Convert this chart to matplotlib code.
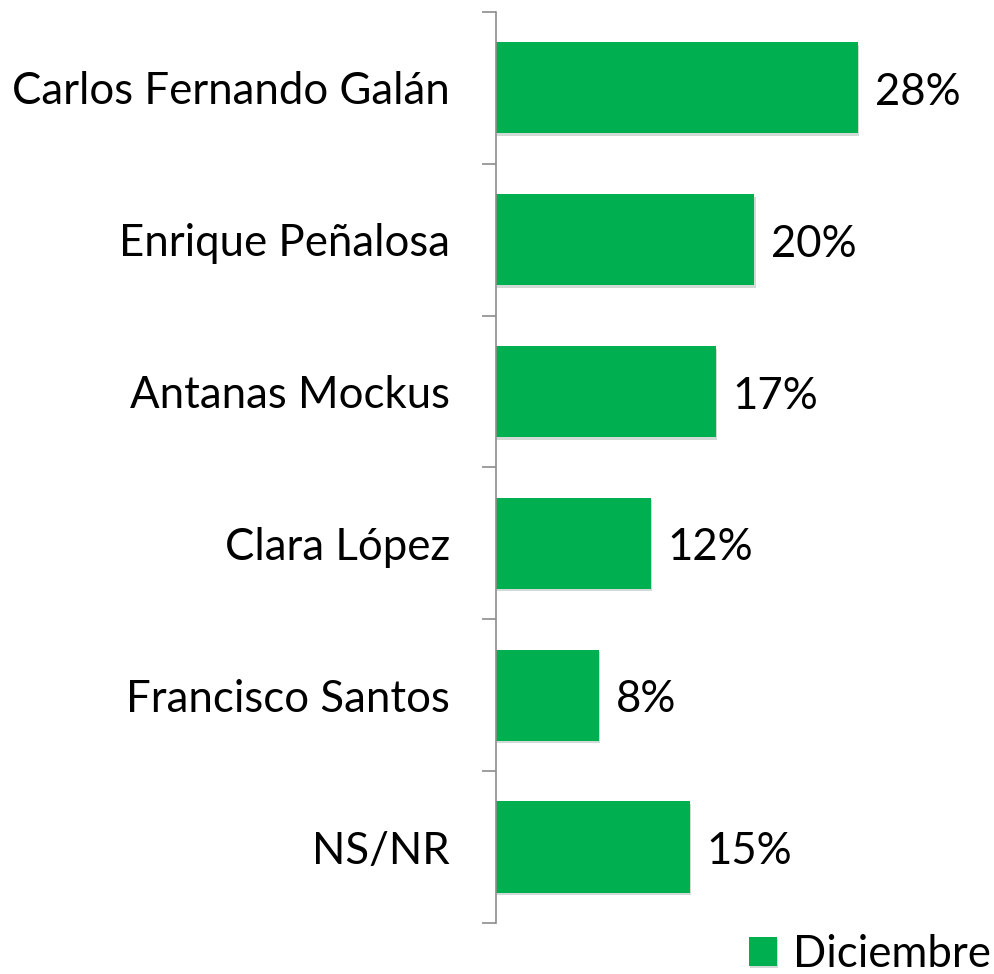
import matplotlib.pyplot as plt
import matplotlib.patheffects as pe

candidatos = ['Carlos Fernando Galán', 'Enrique Peñalosa', 'Antanas Mockus',
              'Clara López', 'Francisco Santos', 'NS/NR']
valores = [28, 20, 17, 12, 8, 15]
serie = 'Diciembre'

plt.rcParams['font.family'] = ['Lato', 'DejaVu Sans']
fs = 31.5

fig = plt.figure(figsize=(9.95, 9.74), dpi=100)
ax = fig.add_axes([0.4985, 0.0524, 0.5, 0.9353])

pos = list(range(len(candidatos)))
bars = ax.barh(pos, valores, height=0.6, color='#00B050', label=serie)
for b in bars:
    b.set_path_effects([pe.SimplePatchShadow(offset=(0.8, -1.8), alpha=0.18), pe.Normal()])

for p, v in zip(pos, valores):
    ax.text(v + 1.3, p + 0.03, f'{v}%', va='center', ha='left', fontsize=fs)

ax.set_ylim(len(candidatos) - 0.5, -0.5)
ax.set_xlim(0, 38.5)
ax.set_yticks([p - 0.5 for p in pos] + [len(pos) - 0.5])
ax.set_yticklabels([])
ax.set_yticks(pos, minor=True)
ax.set_yticklabels(candidatos, minor=True, fontsize=fs)
ax.tick_params(axis='y', which='major', length=10, color='#8c8c8c', width=1.2)
ax.tick_params(axis='y', which='minor', length=0, pad=33)
ax.set_xticks([])
for s in ['top', 'right', 'bottom']:
    ax.spines[s].set_visible(False)
ax.spines['left'].set_color('#8c8c8c')
ax.spines['left'].set_linewidth(1.2)

fig.legend(loc='lower right', bbox_to_anchor=(1.035, -0.041), frameon=False,
           fontsize=fs, handlelength=0.65, handleheight=0.65, handletextpad=0.35)

fig.savefig('out.png', dpi=100)
